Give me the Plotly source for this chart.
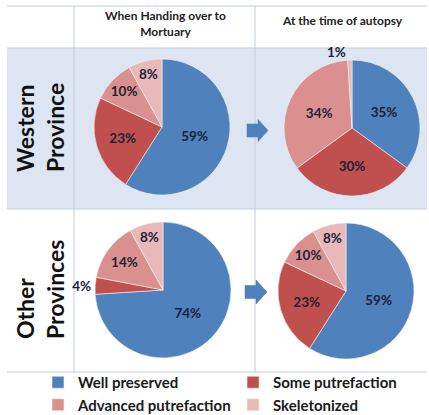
import plotly.graph_objects as go

W, H = 429, 421

categories = ["Well preserved", "Some putrefaction", "Advanced putrefaction", "Skeletonized"]
colors = ["#4F81BD", "#C0504D", "#D9908E", "#E8B9B8"]

western_handing = [59, 23, 10, 8]
western_autopsy = [35, 30, 34, 1]
other_handing = [74, 4, 14, 8]
other_autopsy = [59, 23, 10, 8]

col_titles = ["When Handing over to<br>Mortuary", "At the time of autopsy"]
row_titles = ["Western<br>Province", "Other<br>Provinces"]

FONT = "Lato, 'Open Sans', sans-serif"
TXT = "#1b2238"


def px(x):
    return x / W


def py(y):
    return 1 - y / H


def dom(cx, cy, r):
    return dict(x=[px(cx - r), px(cx + r)], y=[py(cy + r), py(cy - r)])


fig = go.Figure()

pies = [
    (western_handing, (162, 127), ["inside"] * 4, True),
    (western_autopsy, (352, 128), ["inside", "inside", "inside", "outside"], False),
    (other_handing, (163, 290), ["inside", "outside", "inside", "inside"], False),
    (other_autopsy, (346, 291), ["inside"] * 4, False),
]
for vals, (cx, cy), pos, show in pies:
    fig.add_trace(go.Pie(
        labels=categories, values=vals, sort=False, direction="clockwise", rotation=0,
        marker=dict(colors=colors, line=dict(color="#f2f2f2", width=0.6)),
        texttemplate="%{value}%", textposition=pos, insidetextorientation="horizontal",
        textfont=dict(family=FONT, size=13.5, color=TXT, weight="bold"),
        domain=dom(cx, cy, 68), showlegend=show, hoverinfo="label+percent",
    ))

shapes = []
# Western row background
shapes.append(dict(type="rect", xref="paper", yref="paper", x0=px(7), x1=px(427),
                   y0=py(209), y1=py(48), fillcolor="#DCE5F1", line=dict(width=0), layer="below"))
grid = "#C3CDDD"
for y in [6, 48, 209, 372]:
    shapes.append(dict(type="line", xref="paper", yref="paper", x0=px(7), x1=px(427),
                       y0=py(y), y1=py(y), line=dict(color=grid, width=1), layer="below"))
for x in [74, 255]:
    shapes.append(dict(type="line", xref="paper", yref="paper", x0=px(x), x1=px(x),
                       y0=py(372), y1=py(6), line=dict(color=grid, width=1), layer="below"))


def arrow(x0, xs, xt, yc, hs, hh):
    pts = [(x0, yc - hs), (xs, yc - hs), (xs, yc - hh), (xt, yc), (xs, yc + hh), (xs, yc + hs), (x0, yc + hs)]
    d = "M " + " L ".join(f"{px(a):.5f},{py(b):.5f}" for a, b in pts) + " Z"
    return dict(type="path", xref="paper", yref="paper", path=d, fillcolor="#4F81BD",
                line=dict(color="#4A7AB5", width=0.5))


shapes.append(arrow(247, 258, 268, 130.5, 6.5, 11))
shapes.append(arrow(245, 256, 267, 292, 6.5, 12))

ann_common = dict(xref="paper", yref="paper", showarrow=False, xanchor="center", yanchor="middle")
annotations = [
    dict(text=col_titles[0], x=px(165), y=py(24), align="center",
         font=dict(family=FONT, size=12, color="#222", weight="bold"), **ann_common),
    dict(text=col_titles[1], x=px(342), y=py(20), align="center",
         font=dict(family=FONT, size=12, color="#222", weight="bold"), **ann_common),
    dict(text=row_titles[0], x=px(40), y=py(128), textangle=-90, align="left",
         font=dict(family=FONT, size=23, color="#111", weight="bold"), **ann_common),
    dict(text=row_titles[1], x=px(40), y=py(290), textangle=-90, align="left",
         font=dict(family=FONT, size=23, color="#111", weight="bold"), **ann_common),
]

fig.update_layout(
    width=W, height=H, margin=dict(l=0, r=0, t=0, b=0),
    paper_bgcolor="white", plot_bgcolor="white",
    shapes=shapes, annotations=annotations,
    legend=dict(orientation="h", x=px(38), y=0, xanchor="left", yanchor="bottom",
                entrywidth=150, traceorder="normal",
                font=dict(family=FONT, size=15, color="#1a1a1a", weight="bold"),
                bgcolor="rgba(0,0,0,0)", itemwidth=30),
)

fig.write_html("out.html", config={"displayModeBar": False},
               post_script="document.body.style.margin='0';document.body.style.overflow='hidden';")
